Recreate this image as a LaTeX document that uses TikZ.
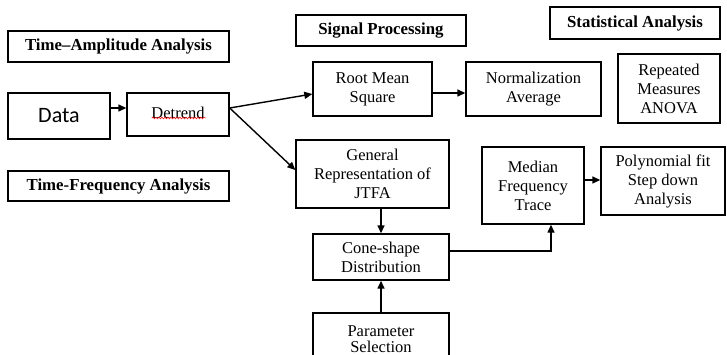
\documentclass[tikz,border=0pt]{standalone}
\usepackage{fontspec}
\setmainfont{Liberation Serif}
\newfontfamily\datafont{Carlito}
\usetikzlibrary{arrows.meta,decorations.pathmorphing}
\begin{document}
\begin{tikzpicture}[x=1pt,y=-1pt,
  box/.style={draw,line width=1.4pt,inner sep=0pt,align=center,font=\fontsize{16.5}{19}\selectfont},
  head/.style={box,font=\fontsize{16.8}{19}\selectfont\bfseries},
  arr/.style={line width=1.4pt,-{Triangle[length=8pt,width=7pt]}}]
\useasboundingbox (0,0) rectangle (727,355);
\clip (0,0) rectangle (727,355);
\node[head,minimum width=221pt,minimum height=31pt] (ta) at (118.5,46.5) {Time--Amplitude Analysis};
\node[head,minimum width=221pt,minimum height=30pt] (tf) at (118.5,186) {Time-Frequency Analysis};
\node[head,minimum width=170pt,minimum height=31pt] (sp) at (381,30.5) {Signal Processing};
\node[head,minimum width=170pt,minimum height=32pt] (sa) at (635,23) {Statistical Analysis};
\node[box,minimum width=102pt,minimum height=46pt,font=\datafont\fontsize{22}{26}\selectfont] (data) at (59,116) {Data};
\node[box,minimum width=102pt,minimum height=43pt] (detrend) at (178,114.5) {\raisebox{4pt}{Detrend}};
\node[box,minimum width=119pt,minimum height=54pt] (rms) at (372.5,89) {Root Mean\\Square};
\node[box,minimum width=135pt,minimum height=54pt] (norm) at (533.5,89) {Normalization\\Average};
\node[box,minimum width=102pt,minimum height=69pt] (anova) at (669,88.5) {Repeated\\Measures\\ANOVA};
\node[box,minimum width=153pt,minimum height=68pt] (jtfa) at (372.5,174) {General\\Representation of\\JTFA};
\node[box,minimum width=136pt,minimum height=46pt] (cone) at (381,257) {Cone-shape\\Distribution};
\node[box,minimum width=136pt,minimum height=70pt] (param) at (381,348) {\raisebox{27pt}{\begin{tabular}{@{}c@{}}Parameter\\[-3pt]Selection\end{tabular}}};
\node[box,minimum width=102pt,minimum height=77pt] (median) at (533,185.5) {Median\\Frequency\\Trace};
\node[box,minimum width=124pt,minimum height=68pt] (poly) at (663,181) {Polynomial fit\\Step down\\Analysis};
\coordinate (y108) at (0,108);
\coordinate (y94) at (0,94);
\coordinate (y170) at (0,170);
\coordinate (y93) at (0,93);
\coordinate (y251) at (0,251);
\coordinate (x551) at (551,0);
\coordinate (y180) at (0,180);
\draw[red,line width=0.5pt,decorate,decoration={snake,segment length=3pt,amplitude=0.9pt}] (152,118) -- (206,118);
\draw[arr] (data.east |- y108) -- (detrend.west |- y108);
\draw[arr] (detrend.east |- y108) -- (rms.west |- y94);
\draw[arr] (detrend.east |- y108) -- (jtfa.west |- y170);
\draw[arr] (rms.east |- y93) -- (norm.west |- y93);
\draw[arr] (jtfa.south -| cone.north) -- (cone.north);
\draw[arr] (param.north) -- (cone.south);
\draw[arr] (cone.east |- y251) -| (median.south -| x551);
\draw[arr] (median.east |- y180) -- (poly.west |- y180);
\end{tikzpicture}
\end{document}
